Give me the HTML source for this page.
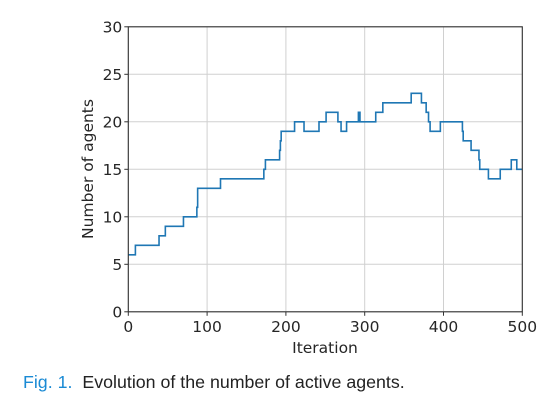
<!DOCTYPE html>
<html><head><meta charset="utf-8"><style>
body{margin:0;background:#fff;width:559px;height:405px;overflow:hidden}
svg text{font-family:"DejaVu Sans",sans-serif;fill:#262626}
</style></head><body>
<svg width="559" height="405">
<g id="grid"></g>
<g id="ticks"></g>
<path id="line" fill="none" stroke="#1f77b4" stroke-width="1.6"/>
<rect x="128.3" y="26.8" width="394" height="285" fill="none" stroke="#333" stroke-width="1.1"/>
<text x="325" y="353" font-size="15.5" text-anchor="middle">Iteration</text>
<text transform="translate(93,169) rotate(-90)" font-size="15.5" text-anchor="middle">Number of agents</text>
<text x="23" y="388" font-size="17.8" style="font-family:'Liberation Sans',sans-serif"><tspan style="fill:#1a8ad4">Fig. 1.</tspan><tspan dx="10" style="fill:#222">Evolution of the number of active agents.</tspan></text>
</svg>
<script>
const xs=[0,9,39,47,70,87,88,117,172,174,192,193,194,211,223,242,251,266,270,277,292,294,314,323,359,372,378,381,383,396,424,425,435,445,446,457,472,486,493,500];
const ys=[6,7,8,9,10,11,13,14,15,16,17,18,19,20,19,20,21,20,19,20,21,20,21,22,23,22,21,20,19,20,19,18,17,16,15,14,15,16,15,15];
const xTicks=[0,100,200,300,400,500];
const yTicks=[0,5,10,15,20,25,30];
const X0=128.3,X1=522.3,Y0=311.8,Y1=26.8;
const sx=v=>X0+(v-0)/500*(X1-X0), sy=v=>Y0-(v/30)*(Y0-Y1);
const NS='http://www.w3.org/2000/svg';
const grid=document.getElementById('grid'),tk=document.getElementById('ticks');
function mk(tag,at,par){const e=document.createElementNS(NS,tag);for(const k in at)e.setAttribute(k,at[k]);par.appendChild(e);return e;}
xTicks.forEach(t=>{
 const g=mk('line',{x1:sx(t),x2:sx(t),y1:Y1,y2:Y0,stroke:'#d0d0d0','stroke-width':1},grid);
 
 
 const m=mk('line',{x1:sx(t),x2:sx(t),y1:Y0,y2:Y0+4,stroke:'#333'},tk);
 
 
 const l=mk('text',{x:sx(t),y:332,'font-size':15.5,'text-anchor':'middle'},tk);l.textContent=t;
 
 
});
yTicks.forEach(t=>{
 const g=mk('line',{x1:X0,x2:X1,y1:sy(t),y2:sy(t),stroke:'#d0d0d0','stroke-width':1},grid);
 
 
 const m=mk('line',{x1:X0-4,x2:X0,y1:sy(t),y2:sy(t),stroke:'#333'},tk);
 
 
 const l=mk('text',{x:X0-6,y:sy(t)+5.5,'font-size':15.5,'text-anchor':'end'},tk);l.textContent=t;
 
 
});
let d='M'+sx(xs[0])+','+sy(ys[0]);
for(let i=1;i<xs.length;i++){d+=' H'+sx(xs[i])+' V'+sy(ys[i]);}
document.getElementById('line').setAttribute('d',d);
</script>
</body></html>
